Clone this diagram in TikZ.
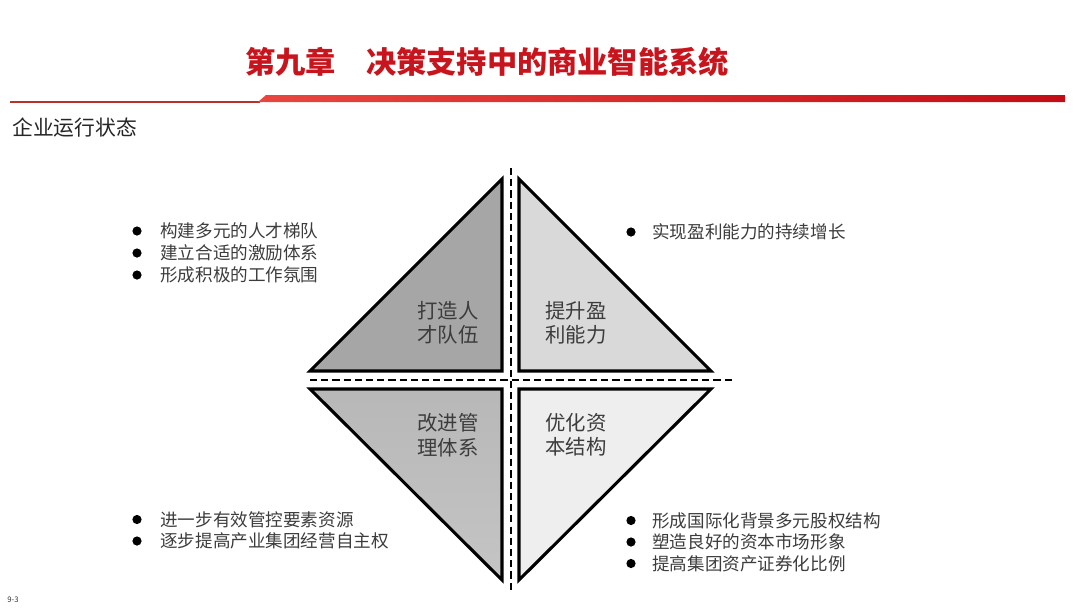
\documentclass[tikz,border=0pt]{standalone}
\usepackage{fontspec}
\setmainfont{Noto Sans CJK SC}
\definecolor{titlered}{HTML}{C8141C}
\definecolor{barlight}{HTML}{E8463E}
\definecolor{bardark}{HTML}{C30D16}
\definecolor{thinred}{HTML}{B8322C}
\definecolor{txtgray}{HTML}{3C3C3C}
\begin{document}
\begin{tikzpicture}[x=0.025cm, y=-0.025cm,
    tri/.style={line width=2.2pt, draw=black, line join=miter},
    axis/.style={line width=1.1pt, dash pattern=on 0.18cm off 0.1cm},
    lbl/.style={align=center, inner sep=0pt, text=txtgray, font=\fontsize{14.5}{17.4}\selectfont},
    bul/.style={anchor=west, inner sep=0pt, text=txtgray, font=\fontsize{12.5}{15}\selectfont}]
    \useasboundingbox (0,0) rectangle (1080,608);
    %Title
    \node[text=titlered, font=\fontsize{21.5}{24}\selectfont\bfseries] (title) at (487,62) {第九章\hspace{1em}决策支持中的商业智能系统};
    %Red bar
    \draw[thinred, line width=1pt] (10,102) -- (260,102);
    \shade[left color=barlight, right color=bardark] (258,102) -- (266,95) -- (1065,95) -- (1065,102) -- cycle;
    %Subtitle
    \node[anchor=west, inner sep=0pt, text=black!85, font=\fontsize{14.8}{17}\selectfont] (subtitle) at (12,128) {企业运行状态};
    %Triangles
    \filldraw[tri, fill=gray!70] (502,371) -- (310,371) -- (502,179) -- cycle;
    \filldraw[tri, fill=gray!30] (519,371) -- (711,371) -- (519,179) -- cycle;
    \shadedraw[tri, top color=gray!56, bottom color=gray!46] (502,389) -- (310,389) -- (502,580) -- cycle;
    \filldraw[tri, fill=gray!13] (519,389) -- (711,389) -- (519,580) -- cycle;
    %Dashed axes
    \draw[axis] (511,168) -- (511,590);
    \draw[axis] (310,380) -- (732,380);
    %Triangle labels
    \node[lbl] (talent) at (448,323) {打造人\\才队伍};
    \node[lbl] (profit) at (576,323) {提升盈\\利能力};
    \node[lbl] (manage) at (448,435) {改进管\\理体系};
    \node[lbl] (capital) at (576,435) {优化资\\本结构};
    %Bullets top left
    \foreach \t [count=\i] in {构建多元的人才梯队, 建立合适的激励体系, 形成积极的工作氛围} {
      \fill (137,209+22*\i) circle (4.6);
      \node[bul] (tl\i) at (160,209+22*\i) {\t};
    }
    %Bullets top right
    \fill (631,232) circle (4.6);
    \node[bul] (tr1) at (652,232) {实现盈利能力的持续增长};
    %Bullets bottom left
    \foreach \t [count=\i] in {进一步有效管控要素资源, 逐步提高产业集团经营自主权} {
      \fill (137,498+21.5*\i) circle (4.6);
      \node[bul] (bl\i) at (160,498+21.5*\i) {\t};
    }
    %Bullets bottom right
    \foreach \t [count=\i] in {形成国际化背景多元股权结构, 塑造良好的资本市场形象, 提高集团资产证券化比例} {
      \fill (631,499+21.5*\i) circle (4.6);
      \node[bul] (br\i) at (652,499+21.5*\i) {\t};
    }
    %Page number
    \node[anchor=west, inner sep=0pt, text=black!80, font=\fontsize{5.5}{6}\selectfont] (pageno) at (7,600) {9-3};
\end{tikzpicture}
\end{document}
